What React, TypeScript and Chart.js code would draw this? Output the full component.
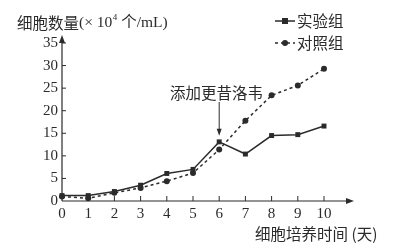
import React, { useEffect, useRef } from "react";
import { Chart, registerables } from "chart.js";

Chart.register(...registerables);

const days = [0, 1, 2, 3, 4, 5, 6, 7, 8, 9, 10];
const experimental = [1.2, 1.2, 2.1, 3.5, 6.1, 7.0, 13.1, 10.4, 14.5, 14.7, 16.6];
const control = [1.0, 0.6, 1.8, 2.9, 4.4, 6.2, 11.4, 17.8, 23.4, 25.6, 29.3];
const yTicks = [0, 5, 10, 15, 20, 25, 30, 35];
const seriesNames = ["实验组", "对照组"];
const yTitle = ["细胞数量", "(× 10", "4", " 个/mL)"];
const xTitle = "细胞培养时间 (天)";
const annotationText = "添加更昔洛韦";
const annotationDay = 6;

const INK = "#2b2b2b";
const SERIF = '"Liberation Serif", "Noto Sans CJK SC", serif';
const CJK = '"Noto Sans CJK SC", sans-serif';

const decorPlugin = {
  id: "decor",
  afterDraw(chart: any) {
    const ctx = chart.ctx as CanvasRenderingContext2D;
    const xs = chart.scales.x;
    const ys = chart.scales.y;
    const x0 = xs.getPixelForValue(0);
    const y0 = ys.getPixelForValue(0);
    const xEnd = 352;
    const yTop = 37;
    ctx.save();
    ctx.strokeStyle = INK;
    ctx.fillStyle = INK;
    ctx.lineWidth = 1.2;
    // axes
    ctx.beginPath();
    ctx.moveTo(x0, y0);
    ctx.lineTo(x0, yTop + 3);
    ctx.moveTo(x0, y0);
    ctx.lineTo(xEnd - 3, y0);
    ctx.stroke();
    ctx.beginPath();
    ctx.moveTo(x0, yTop - 2);
    ctx.lineTo(x0 - 3, yTop + 6);
    ctx.lineTo(x0 + 3, yTop + 6);
    ctx.closePath();
    ctx.fill();
    ctx.beginPath();
    ctx.moveTo(xEnd + 2, y0);
    ctx.lineTo(xEnd - 6, y0 - 3);
    ctx.lineTo(xEnd - 6, y0 + 3);
    ctx.closePath();
    ctx.fill();
    // tick marks
    ctx.lineWidth = 1;
    ctx.beginPath();
    yTicks.forEach((v) => {
      if (v === 0) return;
      const py = ys.getPixelForValue(v);
      ctx.moveTo(x0, py);
      ctx.lineTo(x0 + 4, py);
    });
    days.forEach((d) => {
      if (d === 0) return;
      const px = xs.getPixelForValue(d);
      ctx.moveTo(px, y0);
      ctx.lineTo(px, y0 - 5);
    });
    ctx.stroke();

    // y title
    ctx.textBaseline = "middle";
    ctx.textAlign = "left";
    let tx = 17;
    const ty = 23;
    ctx.font = `15.5px ${CJK}`;
    ctx.fillText(yTitle[0], tx, ty);
    tx += ctx.measureText(yTitle[0]).width;
    ctx.font = `15.5px ${SERIF}`;
    ctx.fillText(yTitle[1], tx, ty);
    tx += ctx.measureText(yTitle[1]).width + 0.5;
    ctx.font = `9px ${SERIF}`;
    ctx.fillText(yTitle[2], tx, ty - 5);
    tx += ctx.measureText(yTitle[2]).width;
    ctx.font = `15.5px ${SERIF}`;
    ctx.fillText(yTitle[3], tx, ty);

    // x title
    ctx.font = `15.5px ${CJK}`;
    ctx.fillText(xTitle, 255, 234);

    // annotation
    const ax = xs.getPixelForValue(annotationDay);
    const ay = ys.getPixelForValue(experimental[annotationDay]);
    ctx.font = `15.5px ${CJK}`;
    ctx.fillText(annotationText, 170, 93);
    ctx.lineWidth = 1;
    ctx.beginPath();
    ctx.moveTo(ax, 102);
    ctx.lineTo(ax, ay - 10);
    ctx.stroke();
    ctx.beginPath();
    ctx.moveTo(ax, ay - 6);
    ctx.lineTo(ax - 2.5, ay - 13);
    ctx.lineTo(ax + 2.5, ay - 13);
    ctx.closePath();
    ctx.fill();

    // legend
    const lx = 275;
    const rows = [21, 43];
    ctx.lineWidth = 1.5;
    ctx.beginPath();
    ctx.moveTo(lx, rows[0]);
    ctx.lineTo(lx + 20, rows[0]);
    ctx.stroke();
    ctx.fillRect(lx + 10 - 3, rows[0] - 3, 6, 6);
    ctx.setLineDash([3, 3]);
    ctx.beginPath();
    ctx.moveTo(lx, rows[1]);
    ctx.lineTo(lx + 20, rows[1]);
    ctx.stroke();
    ctx.setLineDash([]);
    ctx.beginPath();
    ctx.arc(lx + 10, rows[1], 3, 0, Math.PI * 2);
    ctx.fill();
    ctx.font = `15.5px ${CJK}`;
    ctx.fillText(seriesNames[0], lx + 22, rows[0]);
    ctx.fillText(seriesNames[1], lx + 22, rows[1]);
    ctx.restore();
  },
};

export default function App() {
  const ref = useRef<HTMLCanvasElement | null>(null);
  useEffect(() => {
    if (!ref.current) return;
    const chart = new Chart(ref.current, {
      type: "line",
      data: {
        labels: days,
        datasets: [
          {
            label: seriesNames[0],
            data: days.map((d, i) => ({ x: d, y: experimental[i] })),
            borderColor: INK,
            backgroundColor: INK,
            borderWidth: 1.5,
            pointStyle: "rect",
            pointRadius: 3.5,
            pointBorderWidth: 0,
            clip: false as any,
          },
          {
            label: seriesNames[1],
            data: days.map((d, i) => ({ x: d, y: control[i] })),
            borderColor: INK,
            backgroundColor: INK,
            borderWidth: 1.5,
            borderDash: [3, 3],
            pointStyle: "circle",
            pointRadius: 3,
            pointBorderWidth: 0,
            clip: false as any,
          },
        ],
      },
      options: {
        animation: false,
        responsive: false,
        maintainAspectRatio: false,
        layout: { padding: { left: 0, right: 78, top: 43, bottom: 0 } },
        plugins: { legend: { display: false }, tooltip: { enabled: false } },
        scales: {
          x: {
            type: "linear",
            min: 0,
            max: 10,
            grid: { display: false, drawTicks: false },
            border: { display: false },
            ticks: {
              stepSize: 1,
              padding: 4,
              color: INK,
              font: { family: SERIF, size: 15 },
            },
            afterFit(scale: any) {
              scale.height = 48;
            },
          },
          y: {
            min: 0,
            max: 35,
            grid: { display: false, drawTicks: false },
            border: { display: false },
            ticks: {
              stepSize: 5,
              padding: 4,
              color: INK,
              font: { family: SERIF, size: 15 },
            },
            afterFit(scale: any) {
              scale.width = 62;
            },
          },
        },
      },
      plugins: [decorPlugin],
    });
    return () => chart.destroy();
  }, []);
  return (
    <div style={{ position: "fixed", left: 0, top: 0, width: 402, height: 249, background: "#fff" }}>
      <canvas ref={ref} width={402} height={249} style={{ width: 402, height: 249 }} />
    </div>
  );
}
